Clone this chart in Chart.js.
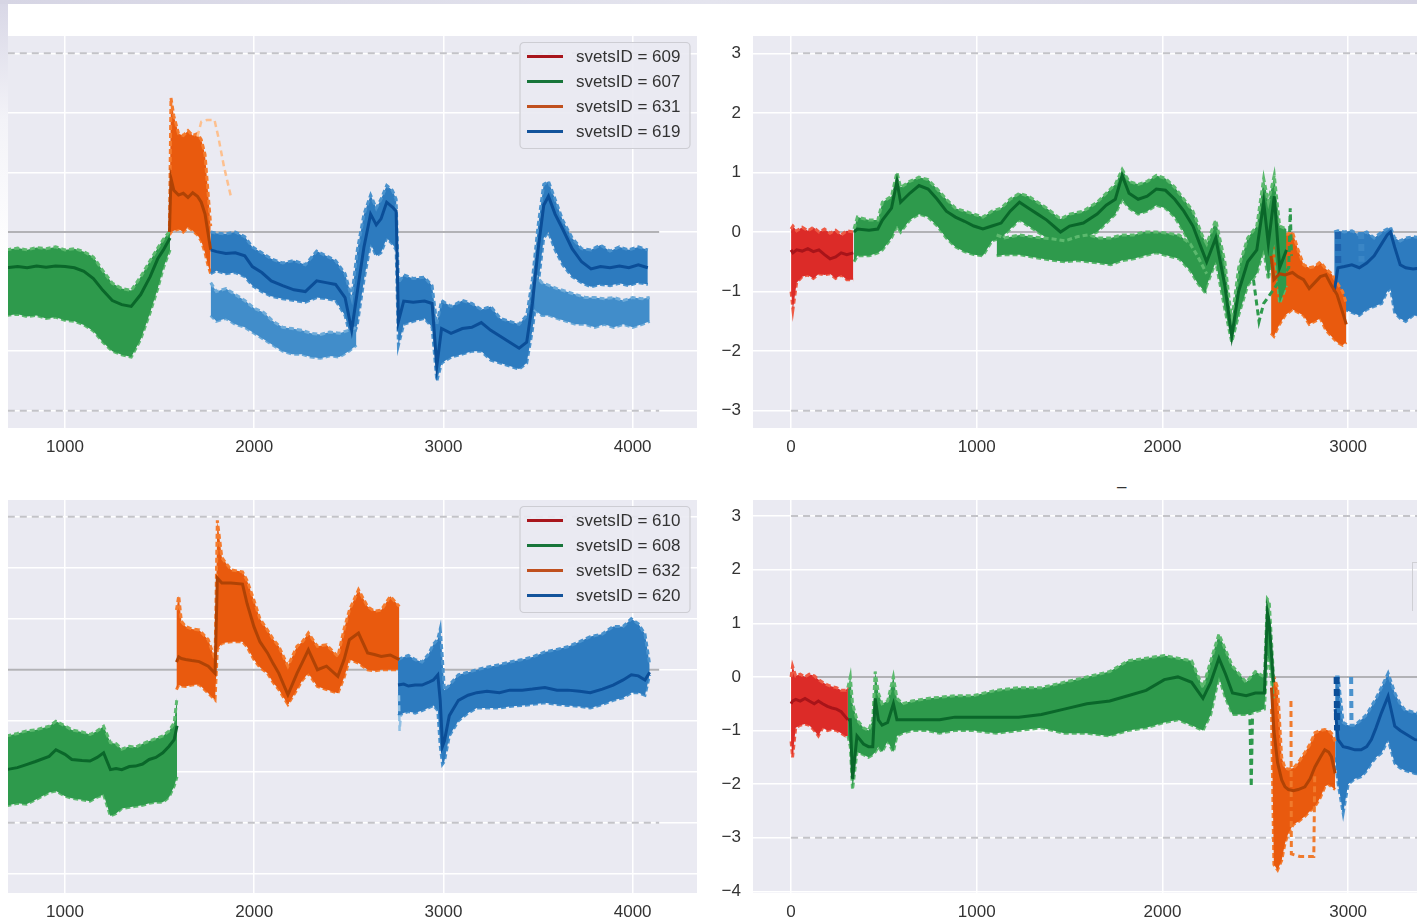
<!DOCTYPE html>
<html lang="en">
<head>
<meta charset="UTF-8">
<title>svetsID deviation panels</title>
<script src="https://cdn.jsdelivr.net/npm/chart.js@4.4.1/dist/chart.umd.min.js"></script>
<style>
  html, body { margin: 0; padding: 0; background: #fff; width: 1417px; height: 922px; overflow: hidden; }
  canvas { position: absolute; }
  #tl { left: -163px; top: 36px; width: 860px; height: 432px; }
  #tr { left: 705px; top: 36px; width: 892px; height: 432px; }
  #bl { left: -163px; top: 500px; width: 860px; height: 433px; }
  #br { left: 705px; top: 500px; width: 892px; height: 433px; }
  .edge-left { position: absolute; left: 0; top: 0; width: 8px; height: 922px; z-index: 5;
    background: linear-gradient(#d8d7e6, #f3f3f8 120px, #ffffff 260px); }
  .edge-top { position: absolute; left: 0; top: 0; width: 1417px; height: 4px; z-index: 5;
    background: linear-gradient(90deg, #d6d5e4, #e4e4ee 50%, #d6d5e4); }
  .mark { position: absolute; left: 1117px; top: 478px; font: 17px "Liberation Sans", Arial, sans-serif; color: #333; line-height: 1; }
  .cut { position: absolute; left: 1412px; top: 562px; width: 6px; height: 48px; border-left: 1.5px solid #cfcfd4; border-top: 1.5px solid #cfcfd4; z-index: 5; }
</style>
</head>
<body>
<canvas id="tl" width="860" height="432"></canvas>
<canvas id="tr" width="892" height="432"></canvas>
<canvas id="bl" width="860" height="433"></canvas>
<canvas id="br" width="892" height="433"></canvas>
<div class="edge-left"></div>
<div class="edge-top"></div>
<div class="mark">–</div>
<div class="cut"></div>
<script>
// ---- axes ----
const xMin = -205, xMax = 4340;
const xTicks = [0, 1000, 2000, 3000, 4000];
const yTicksTop = [-3, -2, -1, 0, 1, 2, 3];
const yTicksBottom = [-4, -3, -2, -1, 0, 1, 2, 3];
const yRangeTop = [-3.29, 3.29];
const yRangeBL = [-4.38, 3.33];
const yRangeBR = [-4.03, 3.30];

// reference lines
const hlineX = [0, 4140];
const zeroLevel = [0, 0];
const upperLimit = [3, 3];
const lowerLimit = [-3, -3];

const legendTop = ['svetsID = 609', 'svetsID = 607', 'svetsID = 631', 'svetsID = 619'];
const legendBottom = ['svetsID = 610', 'svetsID = 608', 'svetsID = 632', 'svetsID = 620'];

// ---- top left: 607 / 631 / 619 ----
const tl607X   = [690, 750, 800, 850, 900, 950, 1000, 1050, 1100, 1150, 1200, 1250, 1300, 1350, 1400, 1450, 1490, 1520, 1555];
const tl607Hi  = [-0.30, -0.27, -0.30, -0.26, -0.28, -0.25, -0.30, -0.28, -0.33, -0.42, -0.65, -0.86, -0.95, -0.98, -0.75, -0.48, -0.27, -0.12, 0.02];
const tl607Mid = [-0.60, -0.58, -0.60, -0.57, -0.59, -0.57, -0.58, -0.60, -0.66, -0.78, -0.98, -1.15, -1.22, -1.25, -1.05, -0.75, -0.45, -0.30, -0.10];
const tl607Lo  = [-1.40, -1.38, -1.42, -1.40, -1.45, -1.43, -1.48, -1.50, -1.56, -1.66, -1.85, -2.00, -2.06, -2.10, -1.80, -1.35, -0.95, -0.60, -0.30];

const tl631X   = [1552, 1560, 1575, 1600, 1625, 1650, 1675, 1700, 1720, 1740, 1755, 1770];
const tl631Hi  = [0.10, 2.25, 1.95, 1.65, 1.62, 1.70, 1.62, 1.65, 1.55, 1.30, 0.70, 0.10];
const tl631Mid = [0.00, 0.90, 0.70, 0.62, 0.65, 0.58, 0.66, 0.60, 0.50, 0.30, 0.00, -0.30];
const tl631Lo  = [-0.05, 0.00, 0.02, 0.05, 0.00, 0.08, 0.02, -0.05, -0.15, -0.35, -0.55, -0.70];
const tl631OutX = [1700, 1720, 1750, 1790, 1810, 1840, 1880];
const tl631OutY = [1.60, 1.85, 1.88, 1.88, 1.60, 1.10, 0.55];

const tl619X   = [1770, 1800, 1850, 1900, 1950, 1990, 2040, 2090, 2150, 2210, 2270, 2330, 2380, 2430, 2480, 2515, 2545, 2580, 2615, 2645, 2670, 2700, 2730, 2750, 2762, 2790, 2840, 2900, 2940, 2965, 2990, 3040, 3100, 3150, 3200, 3250, 3300, 3350, 3400, 3440, 3470, 3500, 3530, 3555, 3590, 3630, 3680, 3730, 3780, 3830, 3880, 3930, 3980, 4030, 4080];
const tl619Hi  = [0.00, -0.02, -0.03, 0.00, -0.08, -0.25, -0.35, -0.45, -0.52, -0.48, -0.55, -0.32, -0.40, -0.48, -0.70, -1.10, -0.30, 0.30, 0.62, 0.40, 0.55, 0.78, 0.70, 0.55, -0.85, -0.72, -0.78, -0.76, -0.90, -1.55, -1.15, -1.25, -1.15, -1.20, -1.30, -1.25, -1.45, -1.50, -1.55, -1.40, -0.80, 0.10, 0.80, 0.85, 0.55, 0.20, -0.10, -0.28, -0.30, -0.22, -0.32, -0.25, -0.30, -0.25, -0.30];
const tl619Mid = [-0.30, -0.33, -0.36, -0.35, -0.40, -0.58, -0.68, -0.82, -0.90, -0.97, -1.00, -0.82, -0.85, -0.88, -1.10, -1.65, -1.00, -0.25, 0.30, 0.12, 0.22, 0.50, 0.42, 0.35, -1.50, -1.16, -1.18, -1.16, -1.20, -2.25, -1.62, -1.70, -1.62, -1.60, -1.52, -1.65, -1.75, -1.85, -1.95, -1.85, -1.20, -0.30, 0.45, 0.60, 0.30, 0.05, -0.28, -0.50, -0.62, -0.58, -0.60, -0.57, -0.60, -0.55, -0.60];
const tl619Lo  = [-0.70, -0.65, -0.70, -0.68, -0.75, -0.90, -1.00, -1.08, -1.12, -1.15, -1.18, -1.10, -1.12, -1.15, -1.40, -1.85, -1.55, -0.80, -0.20, -0.40, -0.35, -0.10, -0.20, -0.30, -1.90, -1.55, -1.50, -1.45, -1.60, -2.50, -2.20, -2.10, -2.05, -2.00, -2.00, -2.15, -2.20, -2.25, -2.30, -2.20, -1.65, -0.90, -0.10, 0.00, -0.30, -0.55, -0.75, -0.85, -0.92, -0.88, -0.90, -0.86, -0.90, -0.85, -0.88];
// lower runs of 619
const tl619bX  = [1770, 1800, 1850, 1900, 1950, 2000, 2050, 2100, 2150, 2200, 2250, 2300, 2350, 2400, 2450, 2500, 2540];
const tl619bHi = [-0.85, -1.00, -0.95, -1.05, -1.15, -1.28, -1.35, -1.50, -1.60, -1.62, -1.65, -1.70, -1.72, -1.68, -1.70, -1.65, -1.60];
const tl619bLo = [-1.40, -1.50, -1.45, -1.55, -1.60, -1.70, -1.80, -1.90, -2.00, -2.05, -2.05, -2.10, -2.12, -2.08, -2.10, -2.00, -1.90];
const tl619cX  = [3480, 3520, 3560, 3600, 3650, 3700, 3750, 3800, 3850, 3900, 3950, 4000, 4050, 4090];
const tl619cHi = [-0.70, -0.85, -0.90, -0.95, -1.00, -1.05, -1.10, -1.10, -1.12, -1.10, -1.15, -1.10, -1.12, -1.10];
const tl619cLo = [-1.30, -1.40, -1.40, -1.45, -1.50, -1.55, -1.55, -1.60, -1.55, -1.60, -1.55, -1.60, -1.55, -1.50];

// ---- top right: 609 / 607 / 631 / 619 ----
const tr609X   = [0, 10, 30, 60, 90, 120, 150, 180, 210, 240, 270, 300, 335];
const tr609Hi  = [0.05, 0.10, 0.02, 0.08, 0.02, 0.08, 0.00, 0.05, -0.02, 0.03, -0.05, 0.02, 0.00];
const tr609Mid = [-0.30, -0.35, -0.30, -0.32, -0.28, -0.33, -0.30, -0.38, -0.45, -0.42, -0.35, -0.38, -0.35];
const tr609Lo  = [-1.00, -1.30, -0.85, -0.75, -0.72, -0.78, -0.70, -0.72, -0.70, -0.78, -0.72, -0.80, -0.80];

const tr607X   = [339, 357, 420, 467, 492, 541, 570, 590, 639, 689, 738, 787, 836, 885, 934, 984, 1033, 1082, 1131, 1180, 1230, 1279, 1328, 1377, 1451, 1500, 1574, 1648, 1697, 1746, 1783, 1820, 1869, 1918, 1967, 2016, 2066, 2115, 2164, 2213, 2238, 2287, 2336, 2373, 2410, 2459, 2508, 2545, 2570, 2602, 2631, 2668];
const tr607Hi  = [0.05, 0.25, 0.20, 0.20, 0.50, 0.60, 1.00, 0.75, 0.85, 0.92, 0.88, 0.72, 0.55, 0.40, 0.35, 0.30, 0.25, 0.35, 0.40, 0.55, 0.65, 0.60, 0.50, 0.40, 0.22, 0.30, 0.35, 0.50, 0.65, 0.80, 1.05, 0.85, 0.80, 0.85, 0.95, 0.90, 0.75, 0.55, 0.35, -0.05, -0.20, 0.20, -0.50, -1.50, -0.60, -0.10, 0.10, 0.90, 0.50, 0.95, 0.10, 0.05];
const tr607Mid = [0.00, 0.05, 0.03, 0.05, 0.20, 0.40, 0.85, 0.50, 0.65, 0.78, 0.72, 0.55, 0.35, 0.25, 0.18, 0.10, 0.05, 0.10, 0.15, 0.35, 0.50, 0.40, 0.30, 0.20, 0.00, 0.10, 0.15, 0.30, 0.45, 0.55, 0.95, 0.65, 0.55, 0.60, 0.72, 0.70, 0.55, 0.35, 0.10, -0.30, -0.50, -0.10, -0.90, -1.75, -1.00, -0.50, -0.30, 0.50, -0.20, 0.60, -0.60, -0.30];
const tr607Lo  = [-0.50, -0.40, -0.40, -0.35, -0.30, -0.10, 0.10, 0.00, 0.20, 0.30, 0.25, 0.10, -0.10, -0.25, -0.33, -0.38, -0.40, -0.15, -0.10, 0.05, 0.20, 0.10, 0.00, -0.10, -0.25, -0.15, -0.10, 0.00, 0.15, 0.30, 0.55, 0.40, 0.30, 0.35, 0.45, 0.40, 0.25, 0.00, -0.30, -0.70, -0.90, -0.50, -1.30, -1.85, -1.40, -0.90, -0.70, -0.30, -0.80, -0.20, -1.20, -0.90];
const tr607bX  = [1107, 1150, 1230, 1300, 1353, 1420, 1476, 1540, 1598, 1660, 1721, 1780, 1844, 1900, 1967, 2030, 2090, 2150, 2188, 2238];
const tr607bHi = [-0.05, -0.10, -0.05, -0.08, -0.10, -0.12, -0.15, -0.08, -0.05, -0.10, -0.10, -0.05, -0.05, 0.00, 0.00, -0.02, -0.05, -0.20, -0.40, -0.70];
const tr607bLo = [-0.40, -0.38, -0.38, -0.42, -0.45, -0.48, -0.50, -0.48, -0.50, -0.52, -0.55, -0.48, -0.45, -0.40, -0.35, -0.40, -0.45, -0.65, -0.85, -1.05];
const tr607OutX = [2490, 2520, 2545, 2680, 2688, 2695];
const tr607OutY = [-0.80, -1.50, -1.20, -0.60, 0.40, -0.40];

const tr631X   = [2585, 2600, 2630, 2660, 2700, 2730, 2760, 2790, 2820, 2850, 2880, 2910, 2940, 2970, 2990];
const tr631Hi  = [0.00, 0.02, 0.00, -0.05, 0.00, -0.30, -0.55, -0.60, -0.58, -0.50, -0.62, -0.70, -0.85, -1.00, -1.20];
const tr631Mid = [-0.40, -0.80, -0.70, -0.72, -0.68, -0.75, -0.80, -0.95, -0.85, -0.75, -0.72, -0.90, -1.05, -1.35, -1.55];
const tr631Lo  = [-1.70, -1.75, -1.55, -1.40, -1.30, -1.35, -1.40, -1.55, -1.50, -1.45, -1.65, -1.75, -1.85, -1.90, -1.85];

const tr619X   = [2925, 2945, 2980, 3020, 3060, 3100, 3140, 3180, 3210, 3228, 3250, 3280, 3310, 3350, 3400, 3480, 3560];
const tr619Hi  = [0.00, 0.02, 0.00, 0.02, -0.05, 0.00, -0.10, 0.00, 0.05, 0.08, -0.10, -0.15, -0.10, -0.08, -0.10, -0.05, -0.10];
const tr619Mid = [-1.00, -0.60, -0.58, -0.55, -0.60, -0.52, -0.40, -0.20, -0.05, 0.00, -0.25, -0.55, -0.60, -0.62, -0.60, -0.62, -0.60];
const tr619Lo  = [-1.80, -1.40, -1.30, -1.35, -1.40, -1.30, -1.25, -1.20, -1.00, -0.95, -1.35, -1.45, -1.50, -1.40, -1.42, -1.40, -1.45];
const tr619DashX = [2945, 2947];
const tr619DashY = [0.00, -0.60];
const tr619Dash2X = [3070, 3072];
const tr619Dash2Y = [0.00, -0.50];

// ---- bottom left: 608 / 632 / 620 ----
const bl608X   = [690, 748, 796, 844, 916, 952, 1000, 1036, 1090, 1132, 1170, 1204, 1240, 1270, 1300, 1340, 1373, 1410, 1445, 1480, 1517, 1550, 1577, 1592];
const bl608Hi  = [-1.30, -1.25, -1.20, -1.18, -1.11, -1.01, -1.10, -1.18, -1.22, -1.27, -1.20, -1.11, -1.43, -1.45, -1.56, -1.50, -1.52, -1.45, -1.40, -1.35, -1.30, -1.20, -1.04, -0.55];
const bl608Mid = [-1.96, -1.92, -1.86, -1.80, -1.70, -1.57, -1.66, -1.76, -1.78, -1.79, -1.72, -1.63, -1.96, -1.94, -1.96, -1.90, -1.89, -1.85, -1.76, -1.72, -1.63, -1.50, -1.37, -1.10];
const bl608Lo  = [-2.67, -2.62, -2.64, -2.55, -2.41, -2.38, -2.48, -2.52, -2.55, -2.58, -2.50, -2.45, -2.87, -2.82, -2.72, -2.70, -2.68, -2.66, -2.62, -2.60, -2.60, -2.50, -2.28, -2.10];

const bl632X   = [1589, 1601, 1615, 1637, 1670, 1709, 1757, 1793, 1805, 1829, 1877, 1938, 1962, 1998, 2030, 2070, 2100, 2130, 2178, 2226, 2255, 2286, 2334, 2382, 2442, 2475, 2503, 2551, 2599, 2635, 2671, 2719, 2767];
const bl632Hi  = [1.17, 1.45, 0.95, 0.85, 0.80, 0.78, 0.59, 0.20, 2.93, 2.20, 1.96, 1.92, 1.75, 1.37, 1.00, 0.78, 0.60, 0.46, 0.07, 0.46, 0.55, 0.72, 0.46, 0.49, 0.26, 0.80, 1.17, 1.57, 1.24, 1.15, 1.17, 1.44, 1.24];
const bl632Mid = [0.15, 0.25, 0.22, 0.20, 0.18, 0.16, 0.07, -0.07, 1.80, 1.70, 1.70, 1.68, 1.30, 0.85, 0.55, 0.33, 0.12, -0.07, -0.49, -0.07, 0.15, 0.39, 0.00, 0.07, -0.13, 0.20, 0.59, 0.72, 0.33, 0.30, 0.26, 0.29, 0.20];
const bl632Lo  = [-0.39, -0.30, -0.32, -0.33, -0.30, -0.29, -0.46, -0.59, 0.40, 0.52, 0.55, 0.55, 0.45, 0.20, 0.05, -0.07, -0.25, -0.39, -0.68, -0.39, -0.20, -0.07, -0.33, -0.39, -0.46, -0.15, 0.20, 0.13, 0.00, -0.02, 0.00, 0.00, 0.00];

const bl620X   = [2760, 2790, 2815, 2850, 2887, 2920, 2947, 2970, 2983, 2995, 3005, 3031, 3079, 3130, 3176, 3230, 3296, 3350, 3416, 3470, 3536, 3600, 3656, 3720, 3776, 3840, 3897, 3950, 3993, 4030, 4065, 4090];
const bl620Hi  = [0.20, 0.25, 0.28, 0.20, 0.15, 0.30, 0.50, 0.60, 0.80, 0.20, -0.40, -0.30, -0.10, -0.05, 0.00, 0.05, 0.10, 0.15, 0.20, 0.25, 0.35, 0.40, 0.45, 0.55, 0.65, 0.70, 0.85, 0.85, 1.00, 0.90, 0.70, 0.10];
const bl620Mid = [-0.30, -0.28, -0.32, -0.30, -0.30, -0.25, -0.20, -0.10, -0.60, -1.50, -1.40, -0.90, -0.60, -0.50, -0.45, -0.42, -0.45, -0.40, -0.40, -0.38, -0.35, -0.40, -0.40, -0.42, -0.45, -0.38, -0.30, -0.20, -0.10, -0.12, -0.20, -0.05];
const bl620Lo  = [-0.90, -0.85, -0.82, -0.85, -0.80, -0.75, -0.70, -0.80, -1.50, -1.85, -1.80, -1.30, -1.00, -0.85, -0.75, -0.75, -0.75, -0.72, -0.70, -0.68, -0.65, -0.68, -0.70, -0.72, -0.75, -0.68, -0.60, -0.55, -0.45, -0.45, -0.50, -0.10];
const bl620OutX = [2765, 2768, 2775];
const bl620OutY = [-0.50, -1.20, -0.90];

// ---- bottom right: 610 / 608 / 632 / 620 ----
const br610X   = [0, 8, 25, 49, 75, 98, 125, 147, 170, 196, 220, 245, 270, 294, 306];
const br610Hi  = [0.00, 0.20, 0.02, 0.05, 0.00, 0.05, 0.02, -0.05, -0.10, -0.15, -0.18, -0.20, -0.25, -0.25, -0.20];
const br610Mid = [-0.50, -0.45, -0.42, -0.45, -0.40, -0.45, -0.50, -0.45, -0.50, -0.55, -0.58, -0.60, -0.65, -0.75, -0.80];
const br610Lo  = [-1.20, -1.50, -0.95, -0.90, -0.88, -0.90, -1.00, -1.10, -0.95, -1.00, -0.98, -1.00, -1.05, -1.10, -1.10];

const br608X   = [306, 319, 331, 355, 390, 417, 440, 453, 470, 490, 520, 551, 570, 600, 650, 735, 800, 882, 980, 1103, 1226, 1348, 1471, 1593, 1716, 1814, 1912, 2010, 2083, 2157, 2218, 2260, 2304, 2340, 2377, 2451, 2500, 2549, 2565, 2575, 2598];
const br608Hi  = [-0.20, 0.00, -0.50, -0.80, -0.95, -1.00, -0.80, 0.10, -0.30, -0.50, -0.45, 0.00, -0.40, -0.50, -0.45, -0.40, -0.38, -0.35, -0.35, -0.25, -0.20, -0.20, -0.10, 0.00, 0.10, 0.30, 0.35, 0.40, 0.35, 0.30, -0.20, 0.30, 0.80, 0.50, 0.20, -0.10, 0.10, 0.00, 1.45, 1.40, 0.00];
const br608Mid = [-0.80, -0.80, -1.90, -1.10, -1.25, -1.30, -1.30, -0.40, -0.80, -0.90, -0.85, -0.50, -0.80, -0.80, -0.80, -0.80, -0.80, -0.75, -0.75, -0.75, -0.75, -0.70, -0.60, -0.50, -0.45, -0.35, -0.25, -0.05, 0.00, -0.10, -0.40, -0.10, 0.35, 0.05, -0.30, -0.35, -0.30, -0.30, 1.20, 1.00, -0.10];
const br608Lo  = [-1.10, -1.30, -2.10, -1.40, -1.45, -1.50, -1.45, -1.40, -1.30, -1.40, -1.20, -1.40, -1.10, -1.05, -1.00, -1.00, -1.05, -1.00, -1.00, -1.05, -1.00, -0.95, -1.05, -1.05, -1.10, -1.00, -0.95, -0.85, -0.80, -0.90, -1.00, -0.70, 0.00, -0.40, -0.70, -0.70, -0.65, -0.60, 0.40, 0.30, -0.40];
const br608OutX = [2470, 2478, 2485];
const br608OutY = [-0.60, -2.05, -0.70];

const br632X   = [2587, 2600, 2620, 2642, 2660, 2678, 2705, 2731, 2767, 2795, 2821, 2850, 2874, 2895, 2910, 2930];
const br632Hi  = [0.00, 0.00, -0.20, -1.50, -1.70, -1.72, -1.70, -1.60, -1.41, -1.25, -1.04, -1.00, -0.98, -1.00, -1.05, -1.20];
const br632Mid = [-0.20, -1.00, -1.60, -1.92, -2.05, -2.10, -2.12, -2.10, -2.05, -1.90, -1.68, -1.50, -1.36, -1.40, -1.49, -1.80];
const br632Lo  = [-0.60, -3.50, -3.60, -3.42, -3.10, -2.91, -2.75, -2.70, -2.60, -2.50, -2.42, -2.25, -2.05, -2.00, -2.05, -2.10];
const br632OutX = [2692, 2694, 2740, 2760, 2815, 2820];
const br632OutY = [-0.45, -3.30, -3.35, -3.35, -3.35, -1.80];

const br620X   = [2930, 2946, 2973, 3000, 3036, 3070, 3100, 3125, 3150, 3179, 3215, 3251, 3280, 3304, 3360, 3450];
const br620Hi  = [0.00, 0.00, -0.85, -0.90, -0.90, -0.80, -0.70, -0.55, -0.40, -0.20, 0.07, -0.30, -0.50, -0.61, -0.67, -0.70];
const br620Mid = [-0.60, -1.17, -1.30, -1.32, -1.36, -1.36, -1.30, -1.17, -0.95, -0.67, -0.36, -0.92, -1.00, -1.05, -1.17, -1.20];
const br620Lo  = [-1.50, -2.00, -2.54, -2.00, -1.90, -1.86, -1.75, -1.61, -1.50, -1.42, -1.17, -1.61, -1.70, -1.74, -1.80, -1.85];
const br620DashX = [2938, 2940];
const br620DashY = [0.00, -1.00];
const br620Dash2X = [3016, 3018];
const br620Dash2Y = [0.00, -0.90];

// ---- styles ----
const RED = { fill: '#dc2b28', edge: '#ee5a45', mid: '#a81419' };
const GREEN = { fill: '#2e9a4c', edge: '#5cb96e', mid: '#0a672a' };
const ORANGE = { fill: '#e95a0e', edge: '#f47b2e', mid: '#b04305' };
const BLUE = { fill: '#2d7bbf', edge: '#4a92cd', mid: '#0b4e98' };
const BLUE_LIGHT = { fill: '#418dca', edge: '#6eabd9', mid: '#2d7bbf' };
const legendColors = ['#a8151c', '#17753a', '#c0501e', '#13539b'];
const tickFont = { family: '"Liberation Sans", Arial, sans-serif', size: 17 };
const tickColor = '#333333';

function zip(xs, ys) {
  return xs.map((x, i) => ({ x: x, y: ys[i] }));
}

function band(xs, hi, lo, pal) {
  return [
    { data: zip(xs, hi), borderColor: pal.edge, backgroundColor: pal.fill, fill: '+1',
      borderWidth: 3, borderDash: [5, 3], order: 2 },
    { data: zip(xs, lo), borderColor: pal.edge, fill: false,
      borderWidth: 3, borderDash: [5, 3], order: 2 }
  ];
}

function line(xs, ys, color, width, dash, order) {
  return { data: zip(xs, ys), borderColor: color, fill: false, borderWidth: width,
    borderDash: dash || [], order: order };
}

function refLines() {
  return [
    line(hlineX, zeroLevel, '#b2b2b6', 2, [], 3),
    line(hlineX, upperLimit, '#c3c3c8', 2, [7, 5], 3),
    line(hlineX, lowerLimit, '#c3c3c8', 2, [7, 5], 3)
  ];
}

const plotBg = {
  id: 'plotBg',
  beforeDraw(chart) {
    const { ctx, chartArea: a } = chart;
    ctx.save();
    ctx.fillStyle = '#eaeaf2';
    ctx.fillRect(a.left, a.top, a.right - a.left, a.bottom - a.top);
    ctx.restore();
  }
};

function makeLegend(labels) {
  return {
    id: 'boxLegend',
    afterDatasetsDraw(chart) {
      const { ctx, chartArea: a } = chart;
      const w = 170, h = 106;
      const x0 = a.right - 7 - w, y0 = a.top + 6.5;
      ctx.save();
      ctx.beginPath();
      ctx.roundRect(x0, y0, w, h, 4);
      ctx.fillStyle = 'rgba(234,234,242,0.9)';
      ctx.fill();
      ctx.strokeStyle = '#cdcdd3';
      ctx.lineWidth = 1.2;
      ctx.stroke();
      ctx.font = '17px "Liberation Sans", Arial, sans-serif';
      ctx.textBaseline = 'middle';
      labels.forEach((t, i) => {
        const y = y0 + 14 + 25 * i;
        ctx.strokeStyle = legendColors[i];
        ctx.lineWidth = 3;
        ctx.beginPath();
        ctx.moveTo(x0 + 7, y);
        ctx.lineTo(x0 + 43, y);
        ctx.stroke();
        ctx.fillStyle = '#333333';
        ctx.fillText(t, x0 + 56, y + 1);
      });
      ctx.restore();
    }
  };
}

function noPad(s) {
  s.paddingTop = 0; s.paddingBottom = 0; s.paddingLeft = 0; s.paddingRight = 0;
}

function xScale() {
  return {
    type: 'linear', min: xMin, max: xMax,
    afterBuildTicks: s => { s.ticks = xTicks.map(v => ({ value: v })); },
    afterFit: s => { s.height = 40; noPad(s); },
    grid: { color: '#ffffff', lineWidth: 1.5, drawTicks: false },
    border: { display: false },
    ticks: { color: tickColor, font: tickFont, padding: 9, maxRotation: 0, callback: v => String(v) }
  };
}

function yScale(range, ticks, showLabels) {
  return {
    type: 'linear', min: range[0], max: range[1],
    afterBuildTicks: s => { s.ticks = ticks.map(v => ({ value: v })); },
    afterFit: s => { s.width = showLabels ? 48 : 0; noPad(s); },
    grid: { color: '#ffffff', lineWidth: 1.5, drawTicks: false },
    border: { display: false },
    ticks: { display: showLabels, color: tickColor, font: tickFont, padding: 12,
      callback: v => (v < 0 ? '\u2212' + Math.abs(v) : String(v)) }
  };
}

function makeChart(id, datasets, yRange, yTicks, showY, legendLabels) {
  const plugins = [plotBg];
  if (legendLabels) plugins.push(makeLegend(legendLabels));
  return new Chart(document.getElementById(id), {
    type: 'line',
    data: { datasets: datasets },
    options: {
      responsive: false,
      animation: false,
      events: [],
      parsing: false,
      layout: { padding: 0, autoPadding: false },
      elements: { point: { radius: 0 }, line: { tension: 0, borderCapStyle: 'butt' } },
      scales: { x: xScale(), y: yScale(yRange, yTicks, showY) },
      plugins: { legend: { display: false }, tooltip: { enabled: false } }
    },
    plugins: plugins
  });
}

// top left
makeChart('tl', [
  ...refLines(),
  ...band(tl607X, tl607Hi, tl607Lo, GREEN),
  line(tl607X, tl607Mid, GREEN.mid, 3, [], 0),
  ...band(tl619bX, tl619bHi, tl619bLo, BLUE_LIGHT),
  ...band(tl619cX, tl619cHi, tl619cLo, BLUE_LIGHT),
  ...band(tl619X, tl619Hi, tl619Lo, BLUE),
  line(tl619X, tl619Mid, BLUE.mid, 3, [], 0),
  line(tl631OutX, tl631OutY, '#fdc08f', 2.5, [6, 4], 1),
  ...band(tl631X, tl631Hi, tl631Lo, ORANGE),
  line(tl631X, tl631Mid, ORANGE.mid, 3, [], 0)
], yRangeTop, yTicksTop, false, legendTop);

// top right
makeChart('tr', [
  ...refLines(),
  ...band(tr609X, tr609Hi, tr609Lo, RED),
  line(tr609X, tr609Mid, RED.mid, 3, [], 0),
  ...band(tr607bX, tr607bHi, tr607bLo, GREEN),
  ...band(tr607X, tr607Hi, tr607Lo, GREEN),
  line(tr607X, tr607Mid, GREEN.mid, 3, [], 0),
  line(tr607OutX, tr607OutY, '#2e9a4c', 3, [6, 4], 1),
  ...band(tr631X, tr631Hi, tr631Lo, ORANGE),
  line(tr631X, tr631Mid, ORANGE.mid, 3, [], 0),
  ...band(tr619X, tr619Hi, tr619Lo, BLUE),
  line(tr619X, tr619Mid, BLUE.mid, 3, [], 0),
  line(tr619DashX, tr619DashY, '#1f63ad', 6, [7, 5], 1),
  line(tr619Dash2X, tr619Dash2Y, '#3a86c6', 6, [7, 5], 1)
], yRangeTop, yTicksTop, true, null);

// bottom left
makeChart('bl', [
  ...refLines(),
  ...band(bl608X, bl608Hi, bl608Lo, GREEN),
  line(bl608X, bl608Mid, GREEN.mid, 3, [], 0),
  ...band(bl620X, bl620Hi, bl620Lo, BLUE),
  line(bl620X, bl620Mid, BLUE.mid, 3, [], 0),
  line(bl620OutX, bl620OutY, '#8fbfe3', 2.5, [6, 4], 1),
  ...band(bl632X, bl632Hi, bl632Lo, ORANGE),
  line(bl632X, bl632Mid, ORANGE.mid, 3, [], 0)
], yRangeBL, yTicksBottom, false, legendBottom);

// bottom right
makeChart('br', [
  ...refLines(),
  ...band(br610X, br610Hi, br610Lo, RED),
  line(br610X, br610Mid, RED.mid, 3, [], 0),
  ...band(br608X, br608Hi, br608Lo, GREEN),
  line(br608X, br608Mid, GREEN.mid, 3, [], 0),
  line(br608OutX, br608OutY, '#2e9a4c', 3, [6, 4], 1),
  line(br632OutX, br632OutY, '#f07a2c', 3, [6, 4], 1),
  ...band(br632X, br632Hi, br632Lo, ORANGE),
  line(br632X, br632Mid, ORANGE.mid, 3, [], 0),
  ...band(br620X, br620Hi, br620Lo, BLUE),
  line(br620X, br620Mid, BLUE.mid, 3, [], 0),
  line(br620DashX, br620DashY, '#0b4e98', 6, [7, 5], 1),
  line(br620Dash2X, br620Dash2Y, '#4a92cd', 4, [7, 5], 1)
], yRangeBR, yTicksBottom, true, null);
</script>
</body>
</html>
